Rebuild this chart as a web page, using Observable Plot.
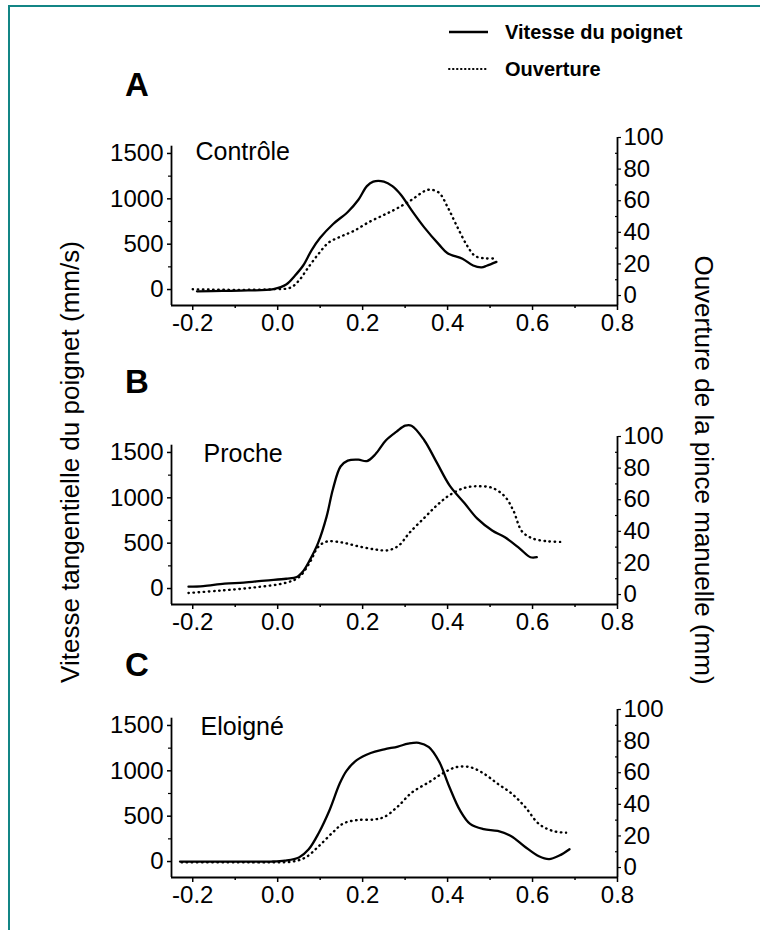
<!DOCTYPE html>
<html><head><meta charset="utf-8">
<script src="https://cdn.jsdelivr.net/npm/d3@7"></script>
<script src="https://cdn.jsdelivr.net/npm/@observablehq/plot@0.6"></script>
<style>
html,body{margin:0;padding:0;background:#fff;}
#page{position:relative;width:760px;height:930px;overflow:hidden;font-family:"Liberation Sans",Arial,sans-serif;color:#000;background:#fff;}
#frame{position:absolute;left:8px;top:5px;width:780px;height:960px;border-top:2.5px solid #138585;border-left:2.5px solid #138585;}
.panel{position:absolute;left:0;}
.letter{position:absolute;font-size:33px;line-height:33px;font-weight:bold;}
.ytitle{position:absolute;line-height:26px;white-space:nowrap;}
.legend{position:absolute;left:448px;font-size:20px;line-height:20px;font-weight:bold;display:flex;align-items:center;}
.legend svg{margin-right:17px;}
</style></head>
<body><div id="page"><div id="frame"></div></div>
<script>
// ---------- data ----------
const legendLabels = ["Vitesse du poignet", "Ouverture"];
const panelLetters = ["A", "B", "C"];
const panelTitles = ["Contrôle", "Proche", "Eloigné"];
const leftTitle = "Vitesse tangentielle du poignet (mm/s)";
const rightTitle = "Ouverture de la pince manuelle (mm)";

const xTicks = [-0.2, 0.0, 0.2, 0.4, 0.6, 0.8];
const xMinor = [-0.1, 0.1, 0.3, 0.5, 0.7];
const leftTicks = [0, 500, 1000, 1500];
const leftMinor = [250, 750, 1250];
const rightTicks = [0, 20, 40, 60, 80, 100];
const rightMinor = [10, 30, 50, 70, 90];

// Panel A – Contrôle
const tVitA = [-0.19, -0.13, -0.07, -0.01, 0.02, 0.04, 0.06, 0.08, 0.10, 0.13, 0.165, 0.19, 0.21, 0.225, 0.25, 0.27, 0.29, 0.315, 0.345, 0.38, 0.40, 0.435, 0.46, 0.48, 0.492, 0.515];
const vitA  = [-20, -15, -10, 5, 55, 150, 265, 435, 570, 720, 855, 990, 1140, 1190, 1190, 1140, 1045, 875, 685, 495, 400, 340, 265, 245, 262, 305];
const tOuvA = [-0.20, -0.10, -0.01, 0.03, 0.05, 0.07, 0.095, 0.12, 0.15, 0.18, 0.215, 0.25, 0.28, 0.315, 0.345, 0.36, 0.38, 0.40, 0.42, 0.445, 0.465, 0.49, 0.51];
const ouvA  = [4, 3.6, 4, 5, 9.5, 17, 26, 33.5, 37.5, 41, 46.5, 51, 55, 60.5, 66, 67, 65, 56, 45, 32, 25, 23.5, 23.5];

// Panel B – Proche
const tVitB = [-0.21, -0.175, -0.125, -0.08, -0.03, 0.02, 0.045, 0.06, 0.075, 0.095, 0.115, 0.13, 0.148, 0.165, 0.19, 0.21, 0.23, 0.255, 0.28, 0.30, 0.315, 0.345, 0.375, 0.405, 0.44, 0.47, 0.505, 0.535, 0.57, 0.595, 0.61];
const vitB  = [20, 27, 55, 65, 88, 108, 127, 192, 308, 500, 790, 1095, 1345, 1410, 1420, 1405, 1480, 1635, 1730, 1795, 1795, 1635, 1385, 1135, 940, 770, 640, 565, 440, 345, 345];
const tOuvB = [-0.21, -0.135, -0.055, 0.02, 0.05, 0.075, 0.095, 0.115, 0.15, 0.19, 0.23, 0.26, 0.285, 0.31, 0.345, 0.375, 0.405, 0.44, 0.47, 0.505, 0.535, 0.555, 0.575, 0.60, 0.635, 0.665];
const ouvB  = [1, 2.5, 4.5, 7.5, 11, 20, 30, 33.5, 33, 30.5, 28.5, 28, 31, 39, 48.5, 56.5, 63, 67.5, 68.5, 67.5, 62, 53, 40, 35.5, 33.7, 33.3];

// Panel C – Eloigné
const tVitC = [-0.23, -0.1, -0.015, 0.017, 0.05, 0.073, 0.097, 0.122, 0.146, 0.162, 0.186, 0.219, 0.251, 0.283, 0.307, 0.332, 0.356, 0.38, 0.404, 0.429, 0.453, 0.485, 0.518, 0.55, 0.582, 0.615, 0.639, 0.663, 0.687];
const vitC  = [0, 0, 0, 10, 45, 135, 318, 566, 860, 1000, 1118, 1197, 1236, 1268, 1299, 1309, 1261, 1102, 824, 566, 415, 357, 337, 279, 163, 58, 27, 66, 136];
const tOuvC = [-0.226, -0.1, -0.016, 0.033, 0.065, 0.097, 0.13, 0.154, 0.186, 0.227, 0.251, 0.283, 0.316, 0.356, 0.388, 0.42, 0.453, 0.485, 0.518, 0.55, 0.582, 0.615, 0.647, 0.679];
const ouvC  = [3.3, 3.3, 3.3, 3.7, 6.3, 13.6, 22.3, 27.8, 30, 30.4, 32, 38.7, 47.5, 54, 59.5, 63.5, 63.5, 59.5, 53, 47, 38.5, 27.6, 23.2, 22];

// ---------- layout ----------
const FONT = '"Liberation Sans", Arial, sans-serif';
const xDomain = [-0.25, 0.8];
const yDomain = [-176, 1676];   // vitesse (mm/s)
const rDomain = [-6.3, 100];    // ouverture (mm)
const leftAxisTop = 1580;
const toL = d3.scaleLinear(rDomain, yDomain);
const MT = 40, FH = 168, MB = 50;

const panels = [
  {tV: tVitA, v: vitA, tO: tOuvA, o: ouvA, title: panelTitles[0], letter: panelLetters[0], top: 137, letterTop: 68, dx: 24, dy: 14},
  {tV: tVitB, v: vitB, tO: tOuvB, o: ouvB, title: panelTitles[1], letter: panelLetters[1], top: 436, letterTop: 365, dx: 32, dy: 17},
  {tV: tVitC, v: vitC, tO: tOuvC, o: ouvC, title: panelTitles[2], letter: panelLetters[2], top: 709, letterTop: 648, dx: 29, dy: 17}
];

const page = document.getElementById("page");

function makePanel(p) {
  const vit = p.tV.map((t, i) => ({t, v: p.v[i]}));
  const ouv = p.tO.map((t, i) => ({t, r: p.o[i]}));
  return Plot.plot({
    width: 760, height: MT + FH + MB,
    marginTop: MT, marginBottom: MB, marginLeft: 171, marginRight: 143,
    x: {domain: xDomain},
    y: {domain: yDomain},
    style: {fontFamily: FONT, fontSize: "24px", color: "#000", background: "transparent", overflow: "visible"},
    marks: [
      Plot.ruleX([xDomain[0]], {y1: yDomain[0], y2: leftAxisTop, strokeWidth: 1.8}),
      Plot.ruleX([xDomain[1]], {y1: yDomain[0], y2: yDomain[1], strokeWidth: 1.8}),
      Plot.ruleY([yDomain[0]], {strokeWidth: 1.8}),
      Plot.axisX({ticks: xTicks, tickFormat: d => d.toFixed(1), tickSize: 5, tickPadding: 3, label: null, strokeWidth: 1.5}),
      Plot.axisX(xMinor, {tickSize: 3, tickFormat: () => "", label: null, strokeWidth: 1.5}),
      Plot.axisY({ticks: leftTicks, tickFormat: d => String(d), tickSize: 4, tickPadding: 4, label: null, strokeWidth: 1.5}),
      Plot.axisY(leftMinor, {tickSize: 3, tickFormat: () => "", label: null, strokeWidth: 1.2}),
      Plot.axisY(rightTicks, {y: toL, anchor: "right", tickSize: 3, tickPadding: 3, tickFormat: d => String(d), label: null, strokeWidth: 1.2}),
      Plot.axisY(rightMinor, {y: toL, anchor: "right", tickSize: -3, tickFormat: () => "", label: null, strokeWidth: 1.2}),
      Plot.line(vit, {x: "t", y: "v", curve: "catmull-rom", stroke: "#000", strokeWidth: 2.3}),
      Plot.line(ouv, {x: "t", y: d => toL(d.r), curve: "catmull-rom", stroke: "#000", strokeWidth: 2.4, strokeDasharray: "0.5 4.6", strokeLinecap: "round"}),
      Plot.text([p.title], {frameAnchor: "top-left", dx: p.dx, dy: p.dy, textAnchor: "start", lineAnchor: "middle", fontSize: 25})
    ]
  });
}

panels.forEach(p => {
  const svg = makePanel(p);
  const wrap = document.createElement("div");
  wrap.className = "panel";
  wrap.style.top = (p.top - MT) + "px";
  wrap.appendChild(svg);
  page.appendChild(wrap);
  const L = document.createElement("div");
  L.className = "letter";
  L.style.left = "125px";
  L.style.top = p.letterTop + "px";
  L.textContent = p.letter;
  page.appendChild(L);
});

// axis titles
const lt = document.createElement("div");
lt.className = "ytitle";
lt.textContent = leftTitle;
lt.style.fontSize = "26px";
lt.style.left = "70px"; lt.style.top = "462px";
lt.style.transform = "translate(-50%,-50%) rotate(-90deg)";
page.appendChild(lt);
const rt = document.createElement("div");
rt.className = "ytitle";
rt.textContent = rightTitle;
rt.style.fontSize = "26px";
rt.style.left = "704px"; rt.style.top = "470px";
rt.style.transform = "translate(-50%,-50%) rotate(90deg)";
page.appendChild(rt);

// legend
const legendDash = [null, "0.5 3.5"];
legendLabels.forEach((lab, i) => {
  const row = document.createElement("div");
  row.className = "legend";
  row.style.top = (i === 0 ? 22 : 59) + "px";
  const ns = "http://www.w3.org/2000/svg";
  const s = document.createElementNS(ns, "svg");
  s.setAttribute("width", 40); s.setAttribute("height", 20);
  const ln = document.createElementNS(ns, "line");
  ln.setAttribute("x1", 1); ln.setAttribute("x2", 40);
  ln.setAttribute("y1", 10); ln.setAttribute("y2", 10);
  ln.setAttribute("stroke", "#000");
  ln.setAttribute("stroke-width", i === 0 ? 2.5 : 2);
  if (legendDash[i]) { ln.setAttribute("stroke-dasharray", legendDash[i]); ln.setAttribute("stroke-linecap", "round"); }
  s.appendChild(ln);
  row.appendChild(s);
  const tx = document.createElement("span");
  tx.textContent = lab;
  row.appendChild(tx);
  page.appendChild(row);
});
</script>
</body></html>
